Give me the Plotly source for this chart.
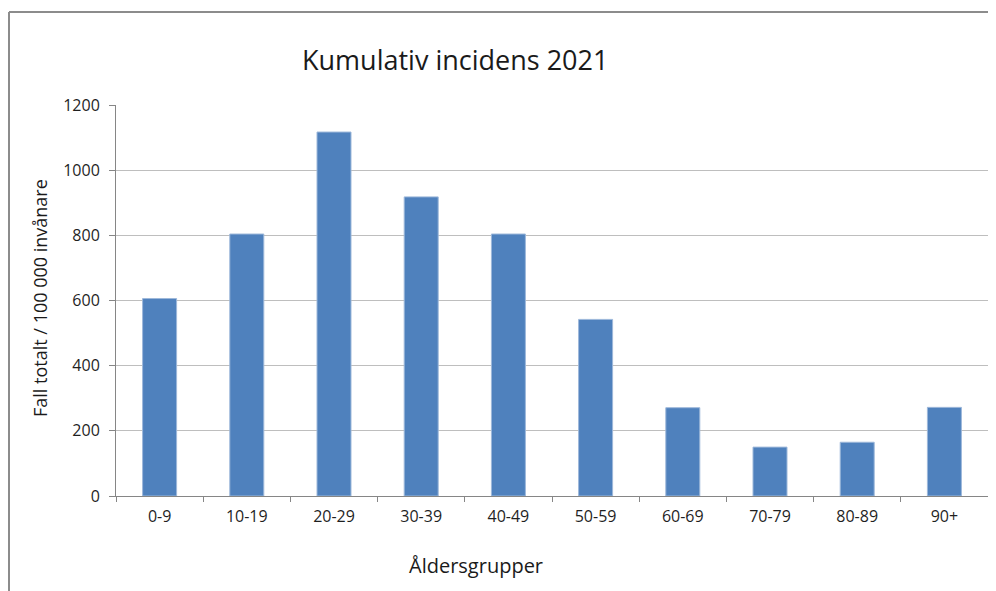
import plotly.graph_objects as go

categories = ["0-9", "10-19", "20-29", "30-39", "40-49", "50-59", "60-69", "70-79", "80-89", "90+"]
values = [606, 804, 1117, 918, 804, 542, 271, 150, 165, 272]
y_ticks = [0, 200, 400, 600, 800, 1000, 1200]

FONT = "Open Sans"

fig = go.Figure(go.Bar(
    x=categories, y=values,
    marker=dict(color="#4F81BD", line=dict(color="#9DB8DA", width=1)),
))

OFF = 8  # page body margin
W, H = 996 - OFF, 591 - OFF
L, R, T, B = 116 - OFF, 8, 105 - OFF, 95
pw, ph = W - L - R, H - T - B

def px_x(x):
    # x given in page pixels
    return (x - OFF - L) / pw

def px_y(y):
    # y given in page pixels
    return (H - B - (y - OFF)) / ph

fig.update_layout(
    width=W, height=H,
    margin=dict(l=L, r=R, t=T, b=B, autoexpand=False),
    paper_bgcolor="white", plot_bgcolor="white",
    bargap=0.61,
    showlegend=False,
    font=dict(family=FONT, color="#1f1f1f"),
    xaxis=dict(
        type="category", tickson="boundaries", ticks="outside", ticklen=5,
        tickcolor="#868686", showline=True, linecolor="#868686", linewidth=1,
        tickfont=dict(size=16, family=FONT, color="#1f1f1f"), showgrid=False,
        ticklabelstandoff=6,
    ),
    yaxis=dict(
        range=[0, 1200], tickvals=y_ticks, ticks="outside", ticklen=6,
        tickcolor="#868686", showline=True, linecolor="#868686", linewidth=1,
        gridcolor="#BEBEBE", gridwidth=1, zeroline=False,
        tickfont=dict(size=16, family=FONT, color="#1f1f1f"), ticklabelstandoff=6,
    ),
    annotations=[
        dict(text="Kumulativ incidens 2021", xref="paper", yref="paper",
             x=px_x(455), y=px_y(60), xanchor="center", yanchor="middle", showarrow=False,
             font=dict(size=27, family=FONT, color="#1a1a1a")),
        dict(text="Åldersgrupper", xref="paper", yref="paper",
             x=px_x(476), y=px_y(565), xanchor="center", yanchor="middle", showarrow=False,
             font=dict(size=20, family=FONT, color="#1a1a1a")),
        dict(text="Fall totalt / 100 000 invånare", xref="paper", yref="paper",
             x=px_x(40), y=px_y(298), xanchor="center", yanchor="middle", showarrow=False,
             textangle=-90,
             font=dict(size=18, family=FONT, color="#1a1a1a")),
    ],
    shapes=[
        dict(type="line", xref="paper", yref="paper",
             x0=px_x(9), x1=px_x(9), y0=px_y(12), y1=px_y(700),
             line=dict(color="#8C8C8C", width=2)),
        dict(type="line", xref="paper", yref="paper",
             x0=px_x(9), x1=px_x(1100), y0=px_y(12), y1=px_y(12),
             line=dict(color="#8C8C8C", width=2)),
    ],
)

fig.write_html("out.html")
